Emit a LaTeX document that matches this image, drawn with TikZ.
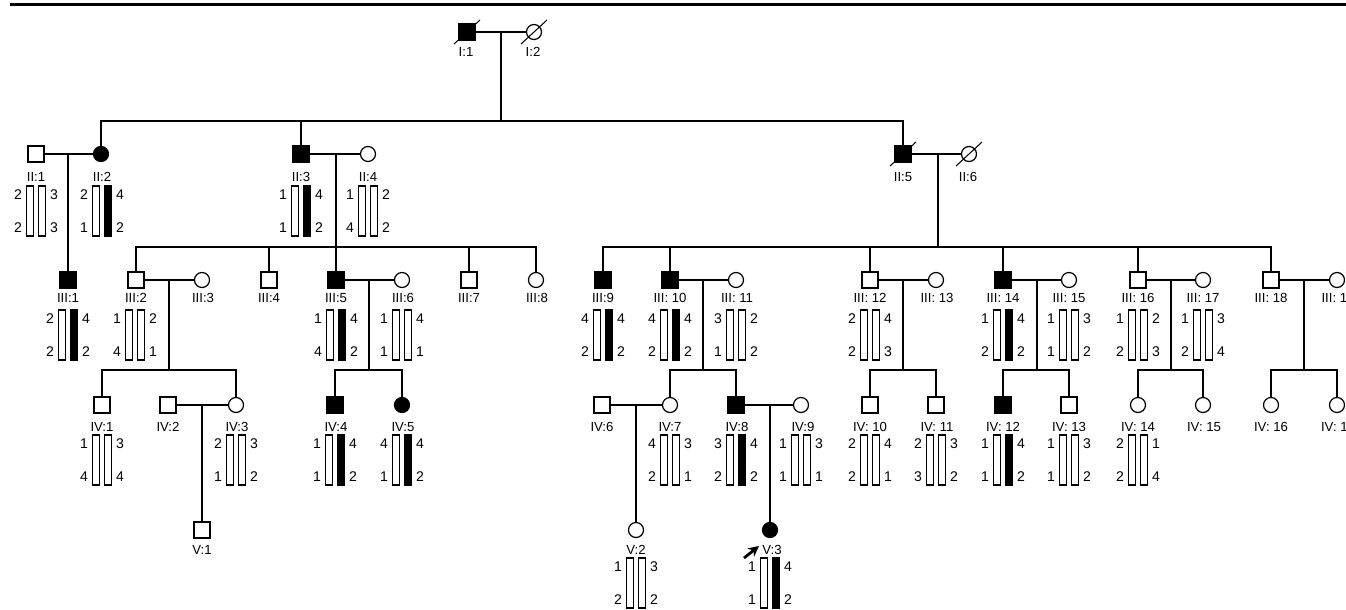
\documentclass[tikz,border=0pt]{standalone}
\usepackage{fontspec}
\setmainfont{Liberation Sans}
\usetikzlibrary{arrows.meta}

% haplotype pair: name, x, top y, left top/bottom, right top/bottom, right bar style
\newcommand{\haplo}[8]{%
  \node[bar] (#1a) at (#2-6,#3+25) {};
  \node[#8] (#1b) at (#2+6,#3+25) {};
  \node[num] (#1la) at (#2-18,#3+9) {#4};
  \node[num] (#1lb) at (#2-18,#3+42) {#5};
  \node[num] (#1ra) at (#2+18,#3+9) {#6};
  \node[num] (#1rb) at (#2+18,#3+42) {#7};
}

\begin{document}
\begin{tikzpicture}[
  x=0.02cm, y=-0.02cm,
  line width=0.7pt,
  every node/.style={font=\fontsize{7.5}{8}\selectfont},
  male/.style={draw, rectangle, minimum size=0.32cm, inner sep=0pt, fill=#1},
  male/.default=white,
  female/.style={draw, circle, minimum size=0.30cm, inner sep=0pt, fill=#1},
  female/.default=white,
  tag/.style={inner sep=0pt},
  num/.style={inner sep=0pt, font=\fontsize{8}{9}\selectfont},
  bar/.style={draw, minimum width=0.14cm, minimum height=1.0cm, inner sep=0pt, line width=0.6pt},
  barf/.style={bar, fill=black},
  dead/.style={line width=0.6pt},
  proband/.style={-{Stealth[length=6pt,width=6pt]}, line width=1.6pt},
]
\useasboundingbox (0,0) rectangle (1346,609);

% top rule
\draw[line width=2pt] (10,4.7) -- (1346,4.7);

% Generation I
\node[male=black] (i1) at (467,32) {};
\node[female] (i2) at (534,32) {};
\draw[dead] ([shift={(-13,12)}]i1.center) -- ([shift={(13,-12)}]i1.center);
\draw[dead] ([shift={(-13,12)}]i2.center) -- ([shift={(13,-12)}]i2.center);
\node[tag] (i1t) at (466,52) {I:1};
\node[tag] (i2t) at (533,52) {I:2};
\coordinate (m1) at (501,32);
\coordinate (s1) at (501,121);
\draw (i1) -- (i2);
\draw (m1) -- (s1);

% Generation II
\node[male] (ii1) at (36,154) {};
\node[female=black] (ii2) at (101,154) {};
\node[male=black] (ii3) at (301,154) {};
\node[female] (ii4) at (368,154) {};
\node[male=black] (ii5) at (903,154) {};
\node[female] (ii6) at (969,154) {};
\draw[dead] ([shift={(-13,12)}]ii5.center) -- ([shift={(13,-12)}]ii5.center);
\draw[dead] ([shift={(-13,12)}]ii6.center) -- ([shift={(13,-12)}]ii6.center);

\node[tag] (ii1t) at (36,177) {II:1};
\node[tag] (ii2t) at (102,177) {II:2};
\node[tag] (ii3t) at (301,177) {II:3};
\node[tag] (ii4t) at (368,177) {II:4};
\node[tag] (ii5t) at (903,177) {II:5};
\node[tag] (ii6t) at (968,177) {II:6};

\draw (ii2.north) -- (ii2.north |- s1) -- (ii5.north |- s1) -- (ii5.north);
\draw (ii3.north) -- (ii3.north |- s1);
\draw (ii1) -- (ii2);
\draw (ii3) -- (ii4);
\draw (ii5) -- (ii6);

\haplo{ii1}{36}{186}{2}{2}{3}{3}{bar}
\haplo{ii2}{102}{186}{2}{1}{4}{2}{barf}
\haplo{ii3}{301}{186}{1}{1}{4}{2}{barf}
\haplo{ii4}{368}{186}{1}{4}{2}{2}{bar}

% Generation III
\node[male=black] (iii1) at (68,280) {};
\node[male] (iii2) at (136,280) {};
\node[female] (iii3) at (202,280) {};
\node[male] (iii4) at (269,280) {};
\node[male=black] (iii5) at (336,280) {};
\node[female] (iii6) at (402,280) {};
\node[male] (iii7) at (469,280) {};
\node[female] (iii8) at (536,280) {};
\node[male=black] (iii9) at (603,280) {};
\node[male=black] (iii10) at (670,280) {};
\node[female] (iii11) at (736,280) {};
\node[male] (iii12) at (870,280) {};
\node[female] (iii13) at (936,280) {};
\node[male=black] (iii14) at (1003,280) {};
\node[female] (iii15) at (1069,280) {};
\node[male] (iii16) at (1138,280) {};
\node[female] (iii17) at (1203,280) {};
\node[male] (iii18) at (1271,280) {};
\node[female] (iii19) at (1337,280) {};

\node[tag] (iii1t) at (68,298) {III:1};
\node[tag] (iii2t) at (136,298) {III:2};
\node[tag] (iii3t) at (203,298) {III:3};
\node[tag] (iii4t) at (269,298) {III:4};
\node[tag] (iii5t) at (336,298) {III:5};
\node[tag] (iii6t) at (403,298) {III:6};
\node[tag] (iii7t) at (469,298) {III:7};
\node[tag] (iii8t) at (537,298) {III:8};
\node[tag] (iii9t) at (603,298) {III:9};
\node[tag] (iii10t) at (670,298) {III: 10};
\node[tag] (iii11t) at (737,298) {III: 11};
\node[tag] (iii12t) at (870,298) {III: 12};
\node[tag] (iii13t) at (937,298) {III: 13};
\node[tag] (iii14t) at (1003,298) {III: 14};
\node[tag] (iii15t) at (1069,298) {III: 15};
\node[tag] (iii16t) at (1138,298) {III: 16};
\node[tag] (iii17t) at (1203,298) {III: 17};
\node[tag] (iii18t) at (1271,298) {III: 18};
\node[tag] (iii19t) at (1338,298) {III: 19};

\coordinate (m2a) at (68,154);
\coordinate (m2b) at (336,154);
\coordinate (s2b) at (336,247);
\coordinate (m2c) at (938,154);
\coordinate (s2c) at (938,247);
\draw (m2a) -- (iii1.north);
\draw (m2b) -- (s2b);
\draw (m2c) -- (s2c);
\draw (iii2.north) -- (iii2.north |- s2b) -- (iii8.north |- s2b) -- (iii8.north);
\draw (iii4.north) -- (iii4.north |- s2b);
\draw (iii5.north) -- (iii5.north |- s2b);
\draw (iii7.north) -- (iii7.north |- s2b);
\draw (iii9.north) -- (iii9.north |- s2c) -- (iii18.north |- s2c) -- (iii18.north);
\draw (iii10.north) -- (iii10.north |- s2c);
\draw (iii12.north) -- (iii12.north |- s2c);
\draw (iii14.north) -- (iii14.north |- s2c);
\draw (iii16.north) -- (iii16.north |- s2c);

\draw (iii2) -- (iii3);
\draw (iii5) -- (iii6);
\draw (iii10) -- (iii11);
\draw (iii12) -- (iii13);
\draw (iii14) -- (iii15);
\draw (iii16) -- (iii17);
\draw (iii18) -- (iii19);

\haplo{iii1}{68}{310}{2}{2}{4}{2}{barf}
\haplo{iii2}{135}{310}{1}{4}{2}{1}{bar}
\haplo{iii5}{336}{310}{1}{4}{4}{2}{barf}
\haplo{iii6}{402}{310}{1}{1}{4}{1}{bar}
\haplo{iii9}{603}{310}{4}{2}{4}{2}{barf}
\haplo{iii10}{670}{310}{4}{2}{4}{2}{barf}
\haplo{iii11}{736}{310}{3}{1}{2}{2}{bar}
\haplo{iii12}{870}{310}{2}{2}{4}{3}{bar}
\haplo{iii14}{1003}{310}{1}{2}{4}{2}{barf}
\haplo{iii15}{1069}{310}{1}{1}{3}{2}{bar}
\haplo{iii16}{1138}{310}{1}{2}{2}{3}{bar}
\haplo{iii17}{1203}{310}{1}{2}{3}{4}{bar}

% Generation IV
\node[male] (iv1) at (102,405) {};
\node[male] (iv2) at (168,405) {};
\node[female] (iv3) at (236,405) {};
\node[male=black] (iv4) at (335,405) {};
\node[female=black] (iv5) at (402,405) {};
\node[male] (iv6) at (602,405) {};
\node[female] (iv7) at (670,405) {};
\node[male=black] (iv8) at (736,405) {};
\node[female] (iv9) at (801,405) {};
\node[male] (iv10) at (870,405) {};
\node[male] (iv11) at (936,405) {};
\node[male=black] (iv12) at (1003,405) {};
\node[male] (iv13) at (1069,405) {};
\node[female] (iv14) at (1138,405) {};
\node[female] (iv15) at (1203,405) {};
\node[female] (iv16) at (1271,405) {};
\node[female] (iv17) at (1337,405) {};

\node[tag] (iv1t) at (102,427) {IV:1};
\node[tag] (iv2t) at (168,427) {IV:2};
\node[tag] (iv3t) at (237,427) {IV:3};
\node[tag] (iv4t) at (336,427) {IV:4};
\node[tag] (iv5t) at (403,427) {IV:5};
\node[tag] (iv6t) at (602,427) {IV:6};
\node[tag] (iv7t) at (670,427) {IV:7};
\node[tag] (iv8t) at (737,427) {IV:8};
\node[tag] (iv9t) at (803,427) {IV:9};
\node[tag] (iv10t) at (870,427) {IV: 10};
\node[tag] (iv11t) at (937,427) {IV: 11};
\node[tag] (iv12t) at (1003,427) {IV: 12};
\node[tag] (iv13t) at (1069,427) {IV: 13};
\node[tag] (iv14t) at (1138,427) {IV: 14};
\node[tag] (iv15t) at (1204,427) {IV: 15};
\node[tag] (iv16t) at (1271,427) {IV: 16};
\node[tag] (iv17t) at (1338,427) {IV: 17};

\coordinate (m3a) at (169,280);
\coordinate (s3a) at (169,370);
\coordinate (m3b) at (369,280);
\coordinate (s3b) at (369,370);
\coordinate (m3c) at (703,280);
\coordinate (s3c) at (703,370);
\coordinate (m3d) at (903,280);
\coordinate (s3d) at (903,370);
\coordinate (m3e) at (1037,280);
\coordinate (s3e) at (1037,370);
\coordinate (m3f) at (1171,280);
\coordinate (s3f) at (1171,370);
\coordinate (m3g) at (1304,280);
\coordinate (s3g) at (1304,370);
\draw (m3a) -- (s3a);
\draw (m3b) -- (s3b);
\draw (m3c) -- (s3c);
\draw (m3d) -- (s3d);
\draw (m3e) -- (s3e);
\draw (m3f) -- (s3f);
\draw (m3g) -- (s3g);
\draw (iv1.north) -- (iv1.north |- s3a) -- (iv3.north |- s3a) -- (iv3.north);
\draw (iv4.north) -- (iv4.north |- s3b) -- (iv5.north |- s3b) -- (iv5.north);
\draw (iv7.north) -- (iv7.north |- s3c) -- (iv8.north |- s3c) -- (iv8.north);
\draw (iv10.north) -- (iv10.north |- s3d) -- (iv11.north |- s3d) -- (iv11.north);
\draw (iv12.north) -- (iv12.north |- s3e) -- (iv13.north |- s3e) -- (iv13.north);
\draw (iv14.north) -- (iv14.north |- s3f) -- (iv15.north |- s3f) -- (iv15.north);
\draw (iv16.north) -- (iv16.north |- s3g) -- (iv17.north |- s3g) -- (iv17.north);

\draw (iv2) -- (iv3);
\draw (iv6) -- (iv7);
\draw (iv8) -- (iv9);

\haplo{iv1}{102}{435}{1}{4}{3}{4}{bar}
\haplo{iv3}{236}{435}{2}{1}{3}{2}{bar}
\haplo{iv4}{335}{435}{1}{1}{4}{2}{barf}
\haplo{iv5}{402}{435}{4}{1}{4}{2}{barf}
\haplo{iv7}{670}{435}{4}{2}{3}{1}{bar}
\haplo{iv8}{736}{435}{3}{2}{4}{2}{barf}
\haplo{iv9}{801}{435}{1}{1}{3}{1}{bar}
\haplo{iv10}{870}{435}{2}{2}{4}{1}{bar}
\haplo{iv11}{936}{435}{2}{3}{3}{2}{bar}
\haplo{iv12}{1003}{435}{1}{1}{4}{2}{barf}
\haplo{iv13}{1069}{435}{1}{1}{3}{2}{bar}
\haplo{iv14}{1138}{435}{2}{2}{1}{4}{bar}

% Generation V
\node[male] (v1) at (202,530) {};
\node[female] (v2) at (636,530) {};
\node[female=black] (v3) at (770,530) {};

\node[tag] (v1t) at (202,550) {V:1};
\node[tag] (v2t) at (636,550) {V:2};
\node[tag] (v3t) at (772,550) {V:3};

\coordinate (m4a) at (202,405);
\coordinate (m4b) at (636,405);
\coordinate (m4c) at (770,405);
\draw (m4a) -- (v1.north);
\draw (m4b) -- (v2.north);
\draw (m4c) -- (v3.north);

\haplo{v2}{636}{558}{1}{2}{3}{2}{bar}
\haplo{v3}{770}{558}{1}{1}{4}{2}{barf}

% proband
\coordinate (pb) at (744,558);
\coordinate (pa) at (759,546);
\draw[proband] (pb) -- (pa);

\end{tikzpicture}
\end{document}
